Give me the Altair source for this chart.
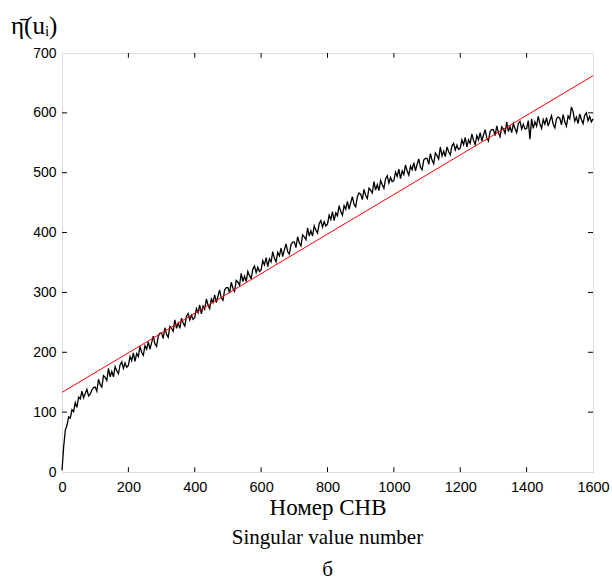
import altair as alt
import pandas as pd

# x positions: singular value numbers sampled every 5
sv_number = list(range(0, 1601, 5))

# mean eta values (black noisy curve)
eta_mean = [
    3, 42, 70, 78, 92, 90, 104, 101, 116, 108, 125, 122, 135, 124, 131, 138, 127, 130, 137, 141,
    142, 135, 155, 146, 142, 161, 158, 153, 173, 159, 168, 159, 176, 169, 164, 179, 184, 173, 182, 175,
    178, 193, 186, 199, 185, 198, 193, 210, 200, 195, 211, 205, 218, 205, 216, 227, 214, 210, 227, 232,
    232, 223, 241, 230, 225, 243, 240, 235, 254, 240, 249, 240, 257, 249, 244, 260, 265, 254, 262, 255,
    258, 273, 266, 279, 264, 277, 272, 289, 279, 273, 289, 283, 296, 283, 294, 304, 291, 287, 304, 308,
    308, 299, 317, 307, 302, 320, 317, 312, 332, 318, 327, 318, 335, 328, 323, 339, 344, 333, 342, 335,
    338, 353, 346, 358, 343, 356, 351, 368, 357, 351, 367, 361, 374, 360, 371, 381, 368, 364, 380, 384,
    384, 375, 393, 383, 378, 396, 393, 388, 408, 394, 403, 394, 411, 404, 399, 415, 420, 409, 418, 411,
    414, 429, 422, 435, 420, 433, 428, 445, 435, 429, 445, 439, 452, 439, 450, 460, 447, 443, 460, 466,
    464, 455, 472, 462, 457, 474, 471, 466, 485, 471, 480, 470, 487, 480, 474, 490, 495, 483, 492, 485,
    487, 501, 494, 506, 490, 503, 497, 513, 503, 496, 511, 505, 517, 503, 514, 523, 509, 505, 521, 524,
    524, 514, 532, 521, 515, 533, 529, 523, 543, 528, 536, 527, 543, 535, 530, 545, 549, 538, 546, 539,
    541, 555, 547, 559, 543, 555, 549, 565, 554, 547, 562, 555, 567, 553, 563, 572, 558, 553, 569, 572,
    572, 562, 578, 567, 560, 577, 573, 566, 585, 569, 577, 567, 582, 574, 567, 582, 586, 573, 581, 573,
    574, 587, 556, 590, 574, 585, 578, 594, 582, 574, 589, 581, 592, 578, 587, 595, 581, 575, 590, 593,
    591, 580, 597, 585, 578, 595, 590, 610, 602, 586, 593, 582, 598, 589, 582, 596, 600, 587, 594, 585,
    590,
]

# red linear fit: end points
fit_x = [0, 1600]
fit_y = [133, 662]

x_ticks = [200, 400, 600, 800, 1000, 1200, 1400]
y_ticks = [100, 200, 300, 400, 500, 600]

y_label = ["η̄(uᵢ)"]

SERIF = "Liberation Serif"

df = pd.DataFrame({"n": sv_number, "eta": eta_mean})
fit = pd.DataFrame({"n": fit_x, "eta": fit_y})

x_scale = alt.Scale(domain=[0, 1600], nice=False, zero=False)
y_scale = alt.Scale(domain=[0, 700], nice=False, zero=False)

x_axis = alt.Axis(
    values=[0, 200, 400, 600, 800, 1000, 1200, 1400, 1600], format="d",
    ticks=False, domain=False, grid=False, labelFlush=False,
    labelFont="Liberation Sans", labelFontSize=14.5, labelColor="black", labelPadding=8,
    title="Номер СНВ",
    titleFont=SERIF, titleFontSize=23, titleFontWeight="normal",
    titleColor="black", titlePadding=3,
)
y_axis = alt.Axis(
    values=[0, 100, 200, 300, 400, 500, 600, 700], format="d",
    ticks=False, domain=False, grid=False, labelFlush=False,
    labelFont="Liberation Sans", labelFontSize=14, labelColor="black", labelPadding=6,
    title=None,
)

curve = alt.Chart(df).mark_line(color="black", strokeWidth=1.3).encode(
    x=alt.X("n:Q", scale=x_scale, axis=x_axis),
    y=alt.Y("eta:Q", scale=y_scale, axis=y_axis),
)

line_fit = alt.Chart(fit).mark_line(color="#ff0000", strokeWidth=1).encode(
    x=alt.X("n:Q", scale=x_scale),
    y=alt.Y("eta:Q", scale=y_scale),
)

xt = pd.DataFrame({"n": x_ticks})
yt = pd.DataFrame({"eta": y_ticks})

xtick_bottom = alt.Chart(xt).mark_rule(color="black", strokeWidth=1).encode(
    x=alt.X("n:Q", scale=x_scale), y=alt.datum(0), y2=alt.datum(8)
)
xtick_top = alt.Chart(xt).mark_rule(color="black", strokeWidth=1).encode(
    x=alt.X("n:Q", scale=x_scale), y=alt.datum(700), y2=alt.datum(692)
)
ytick_left = alt.Chart(yt).mark_rule(color="black", strokeWidth=1).encode(
    y=alt.Y("eta:Q", scale=y_scale), x=alt.datum(0), x2=alt.datum(15)
)
ytick_right = alt.Chart(yt).mark_rule(color="black", strokeWidth=1).encode(
    y=alt.Y("eta:Q", scale=y_scale), x=alt.datum(1600), x2=alt.datum(1585)
)

ylab = alt.Chart(pd.DataFrame({"t": y_label})).mark_text(
    font=SERIF, fontSize=25, color="black", align="left", baseline="middle"
).encode(text="t:N", x=alt.value(-51), y=alt.value(-27))

chart = alt.layer(
    curve, line_fit, xtick_bottom, xtick_top, ytick_left, ytick_right, ylab
).properties(
    width=531, height=419,
    autosize=alt.AutoSizeParams(type="none"),
    padding={"left": 62, "top": 53, "right": 19, "bottom": 114},
    title=alt.TitleParams(
        text=["Singular value number", "б"], orient="bottom", anchor="middle", offset=7,
        font=SERIF, fontSize=21, fontWeight="normal", color="black",
        lineHeight=32, frame="group",
    ),
).configure_view(stroke="black", strokeWidth=1).configure(background="white")

chart.save("out.html", embed_options={"renderer": "svg", "actions": False})
